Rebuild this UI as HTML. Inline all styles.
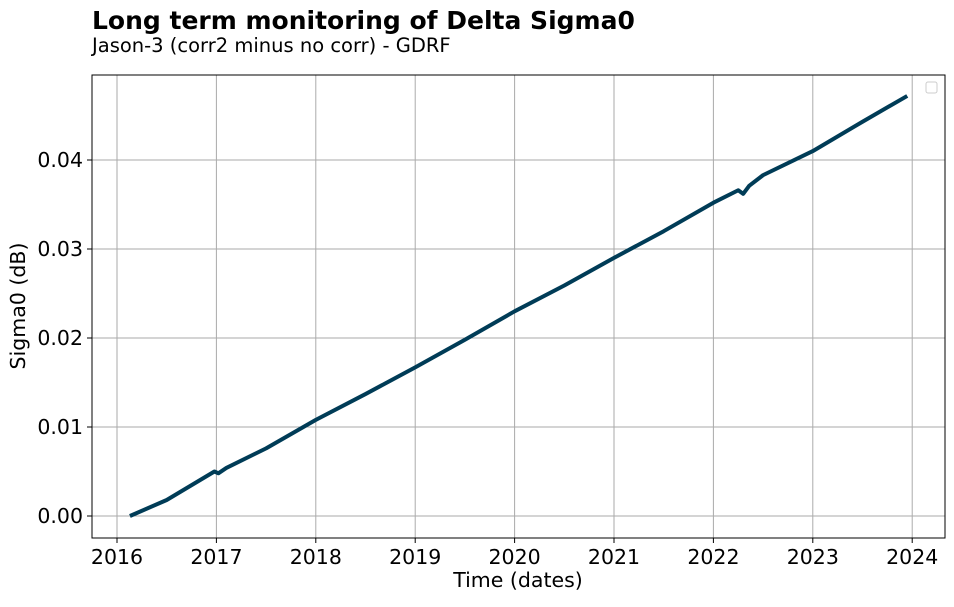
<!DOCTYPE html>
<html><head><meta charset="utf-8"><style>
body{margin:0;background:#fff;font-family:"Liberation Sans","DejaVu Sans",sans-serif;}
svg text{font-family:"DejaVu Sans","Liberation Sans",sans-serif;}
</style></head><body>
<svg id="chart" width="954" height="602" xmlns="http://www.w3.org/2000/svg">
<text x="92" y="29" font-size="25" font-weight="bold">Long term monitoring of Delta Sigma0</text>
<text x="92" y="52" font-size="19.5">Jason-3 (corr2 minus no corr) - GDRF</text>
<g id="grid"></g><g id="axes"></g><g id="series"></g>
<rect x="92" y="75" width="853" height="463" fill="none" stroke="#000" stroke-width="1"/>
<rect x="926" y="82" width="11" height="11" rx="2" fill="#fff" stroke="#ccc"/>
<text x="518" y="587" font-size="20.5" text-anchor="middle">Time (dates)</text>
<text transform="translate(25,306) rotate(-90)" font-size="20.5" text-anchor="middle">Sigma0 (dB)</text>
</svg>
<script>
const xTicks=[2016,2017,2018,2019,2020,2021,2022,2023,2024];
const yTicks=[0,0.01,0.02,0.03,0.04];
const yTickLabels=["0.00","0.01","0.02","0.03","0.04"];
const times=[2016.13,2016.5,2016.98,2017.02,2017.1,2017.5,2018.0,2018.5,2019.0,2019.5,2020.0,2020.5,2021.0,2021.5,2022.0,2022.25,2022.3,2022.36,2022.5,2023.0,2023.5,2023.95];
const sigma=[0,0.0018,0.0050,0.0048,0.0054,0.0076,0.0108,0.0137,0.0167,0.0198,0.0230,0.0259,0.0290,0.0320,0.0352,0.0366,0.0362,0.0371,0.0383,0.0410,0.0443,0.0472];
const X=t=>117+(t-2016)*99.4;
const Y=v=>516-v*8900;
const ns="http://www.w3.org/2000/svg";
function mk(tag,attrs,parent,txt){const e=document.createElementNS(ns,tag);for(const k in attrs)e.setAttribute(k,attrs[k]);if(txt!==undefined)e.textContent=txt;document.getElementById(parent).appendChild(e);return e;}
xTicks.forEach(t=>{
 const g=mk('line',{x1:X(t),x2:X(t),y1:75,y2:538,stroke:'#aaaaaa','stroke-width':1},'grid');
 
 
 const tk=mk('line',{x1:X(t),x2:X(t),y1:538,y2:543,stroke:'#000'},'axes');
 
 
 const l=mk('text',{x:X(t),y:564,'font-size':20.5,'text-anchor':'middle'},'axes',String(t));
 
 
});
yTicks.forEach((v,i)=>{
 const g=mk('line',{x1:92,x2:945,y1:Y(v),y2:Y(v),stroke:'#aaaaaa','stroke-width':1},'grid');
 
 
 const tk=mk('line',{x1:87,x2:92,y1:Y(v),y2:Y(v),stroke:'#000'},'axes');
 
 
 const l=mk('text',{x:83,y:Y(v)+7,'font-size':20.5,'text-anchor':'end'},'axes',yTickLabels[i]);
 
 
});
const p=mk('polyline',{points:times.map((t,i)=>X(t)+','+Y(sigma[i])).join(' '),fill:'none',stroke:'#003c57','stroke-width':4,'stroke-linejoin':'round'},'series');


</script>
</body></html>
